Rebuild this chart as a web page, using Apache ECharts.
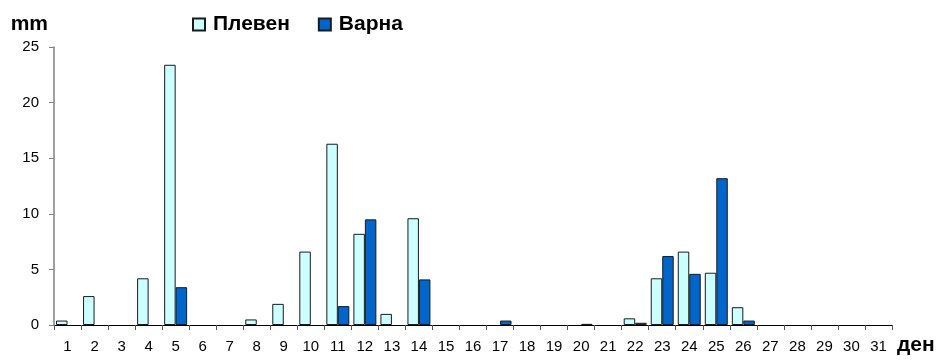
<!DOCTYPE html>
<html>
<head>
<meta charset="utf-8">
<script src="https://cdn.jsdelivr.net/npm/echarts@6/dist/echarts.min.js"></script>
<style>
  html, body { margin: 0; padding: 0; background: #fff; }
  #chart { width: 942px; height: 360px; }
</style>
</head>
<body>
<div id="chart"></div>
<script>
// Daily precipitation (mm) for Плевен and Варна over a 31-day month
const days = ['1','2','3','4','5','6','7','8','9','10','11','12','13','14','15','16',
              '17','18','19','20','21','22','23','24','25','26','27','28','29','30','31'];
const pleven = [0.4, 2.6, 0, 4.2, 23.4, 0, 0, 0.5, 1.9, 6.6, 16.3, 8.2, 1.0, 9.6, 0, 0,
                0, 0, 0, 0, 0, 0.6, 4.2, 6.6, 4.7, 1.6, 0, 0, 0, 0, 0];
const varna  = [0, 0, 0, 0, 3.4, 0, 0, 0, 0, 0, 1.7, 9.5, 0, 4.1, 0, 0,
                0.4, 0, 0, 0.1, 0, 0.2, 6.2, 4.6, 13.2, 0.4, 0, 0, 0, 0, 0];
const yTicks = [0, 5, 10, 15, 20, 25];

// dry days get no bar at all (no outline on the baseline)
const noZero = arr => arr.map(v => (v === 0 ? '-' : v));

const FONT = 'Liberation Sans, Arial, sans-serif';
const chart = echarts.init(document.getElementById('chart'), null, { renderer: 'canvas' });

chart.setOption({
  animation: false,
  backgroundColor: '#ffffff',
  textStyle: { fontFamily: FONT },
  grid: { left: 54, right: 50, top: 47, bottom: 35, containLabel: false },
  legend: {
    left: 192, top: 14, padding: 0,
    itemWidth: 12, itemHeight: 12, itemGap: 28,
    icon: 'rect',
    textStyle: { fontFamily: FONT, fontSize: 21, fontWeight: 'bold', color: '#000', padding: [0, 0, 0, 3] },
    data: ['Плевен', 'Варна']
  },
  xAxis: {
    type: 'category',
    data: days,
    name: 'ден',
    nameLocation: 'end',
    nameGap: 5,
    nameTextStyle: { fontFamily: FONT, fontSize: 21, fontWeight: 'bold', color: '#000',
                     verticalAlign: 'top', padding: [10, 0, 0, 0] },
    axisLine: { lineStyle: { color: '#000', width: 1 } },
    axisTick: { show: true, alignWithLabel: false, length: 5, lineStyle: { color: '#555' } },
    axisLabel: { fontFamily: FONT, fontSize: 15, color: '#000', margin: 14, interval: 0 },
    splitLine: { show: false }
  },
  yAxis: {
    type: 'value',
    min: yTicks[0], max: yTicks[yTicks.length - 1], interval: 5,
    name: 'mm',
    nameLocation: 'end',
    nameGap: 23,
    nameTextStyle: { fontFamily: FONT, fontSize: 21, fontWeight: 'bold', color: '#000',
                     align: 'right', verticalAlign: 'middle', padding: [0, 6, 0, 0] },
    axisLine: { show: true, lineStyle: { color: '#808080', width: 1.5 } },
    axisTick: { show: true, inside: false, length: 5, lineStyle: { color: '#808080' } },
    axisLabel: { fontFamily: FONT, fontSize: 15, color: '#000', margin: 15 },
    splitLine: { show: false }
  },
  series: [
    {
      name: 'Плевен', type: 'bar', data: noZero(pleven),
      barGap: '0%', barCategoryGap: '15%',
      itemStyle: { color: '#CCFFFF', borderColor: '#1a1a1a', borderWidth: 1 }
    },
    {
      name: 'Варна', type: 'bar', data: noZero(varna),
      barGap: '0%', barCategoryGap: '15%',
      itemStyle: { color: '#0066CC', borderColor: '#1a1a1a', borderWidth: 1 }
    }
  ]
});
</script>
</body>
</html>
